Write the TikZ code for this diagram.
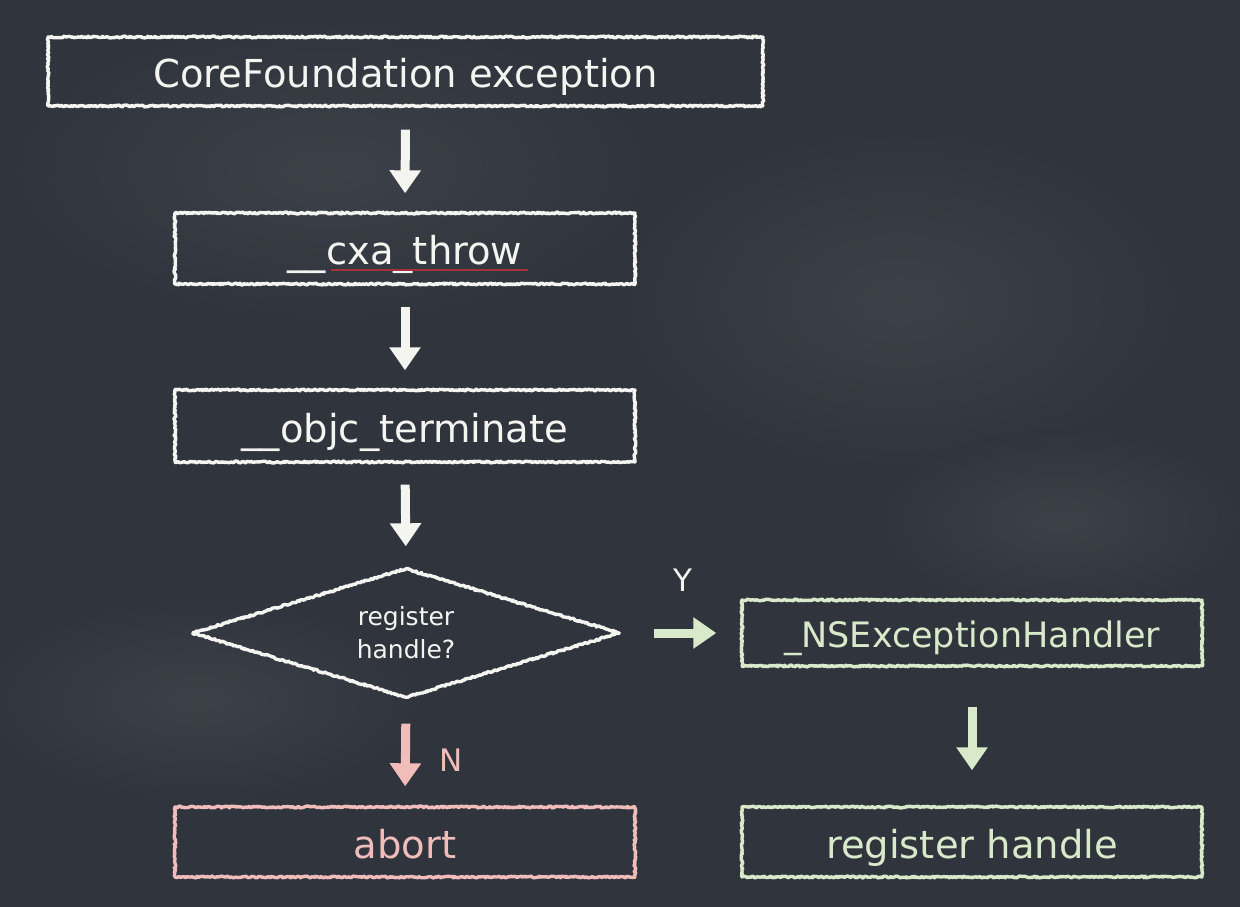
\documentclass[tikz,border=0pt]{standalone}
\usepackage{fontspec}
\setmainfont{DejaVu Sans}
\usetikzlibrary{arrows.meta,shapes.geometric,decorations.pathmorphing}
\definecolor{board}{HTML}{30353D}
\definecolor{chalkw}{HTML}{F4F4F1}
\definecolor{chalkg}{HTML}{D9EACB}
\definecolor{chalkr}{HTML}{F1BDBA}
\definecolor{squig}{HTML}{A5313A}
\tikzset{
  chalkbox/.style={draw=#1, text=#1, line width=3.4pt, line join=round, decorate,
    decoration={random steps, segment length=1.4pt, amplitude=0.9pt},
    inner sep=0pt, font=\fontsize{38.5}{44}\selectfont},
  boxtext/.style={text height=#1, text depth=0pt},
  flow/.style={draw=#1, line width=9pt,
    -{Triangle[width=30pt,length=23pt]}},
  lbl/.style={text=#1, font=\fontsize{31}{36}\selectfont, inner sep=0pt},
  smudge/.style={inner color=board!94!white, outer color=board},
}
\begin{document}
\begin{tikzpicture}[x=1pt,y=-1pt]
\useasboundingbox (0,0) rectangle (1240,907);
\fill[board] (0,0) rectangle (1240,907);
% faint chalk smudges
\shade[smudge] (330,170) ellipse (320 and 150);
\shade[smudge] (900,300) ellipse (280 and 170);
\shade[smudge] (1060,520) ellipse (180 and 90);
\shade[smudge] (200,700) ellipse (220 and 100);

\node[chalkbox=chalkw, boxtext=32pt, minimum width=715pt, minimum height=69pt] (cf) at (405.5,71.5) {CoreFoundation exception};
\node[chalkbox=chalkw, boxtext=32pt, minimum width=460pt, minimum height=71pt] (cxa) at (405,248.5) {\_\_cxa\_throw};
\node[chalkbox=chalkw, boxtext=32pt, minimum width=460pt, minimum height=72pt] (objc) at (405,426) {\_\_objc\_terminate};
\node[chalkbox=chalkw, diamond, aspect=3.3, minimum width=428pt, minimum height=130pt, align=center,
      font=\fontsize{25}{33}\selectfont] (reg) at (406,633) {register\\handle?};
\node[chalkbox=chalkg, boxtext=29pt, minimum width=460pt, minimum height=66pt,
      font=\fontsize{35}{40}\selectfont] (ns) at (972,633) {\_NSExceptionHandler};
\node[chalkbox=chalkg, boxtext=32pt, minimum width=460pt, minimum height=70pt] (rh) at (972,842) {register handle};
\node[chalkbox=chalkr, boxtext=32pt, minimum width=460pt, minimum height=70pt] (ab) at (405,842) {abort};

% spell-check squiggle under cxa_throw
\coordinate (sq1) at (331,270);
\coordinate (sq2) at (528,270);
\draw[squig, line width=1.6pt] (sq1) -- (sq2);

\draw[flow=chalkw, shorten <=22pt, shorten >=18pt] (cf.south) -- (cxa.north);
\draw[flow=chalkw, shorten <=21pt, shorten >=18pt] (cxa.south) -- (objc.north);
\draw[flow=chalkw, shorten <=21pt, shorten >=20pt] (objc.south) -- (reg.north);
\draw[flow=chalkr, shorten <=24pt, shorten >=19pt] (reg.south) -- (ab.north);
\draw[flow=chalkg, shorten <=32pt, shorten >=24pt] (reg.east) -- (ns.west);
\draw[flow=chalkg, shorten <=39pt, shorten >=35pt] (ns.south) -- (rh.north);

\node[lbl=chalkw] (y) at (683,580) {Y};
\node[lbl=chalkr] (n) at (451,760) {N};
\end{tikzpicture}
\end{document}
